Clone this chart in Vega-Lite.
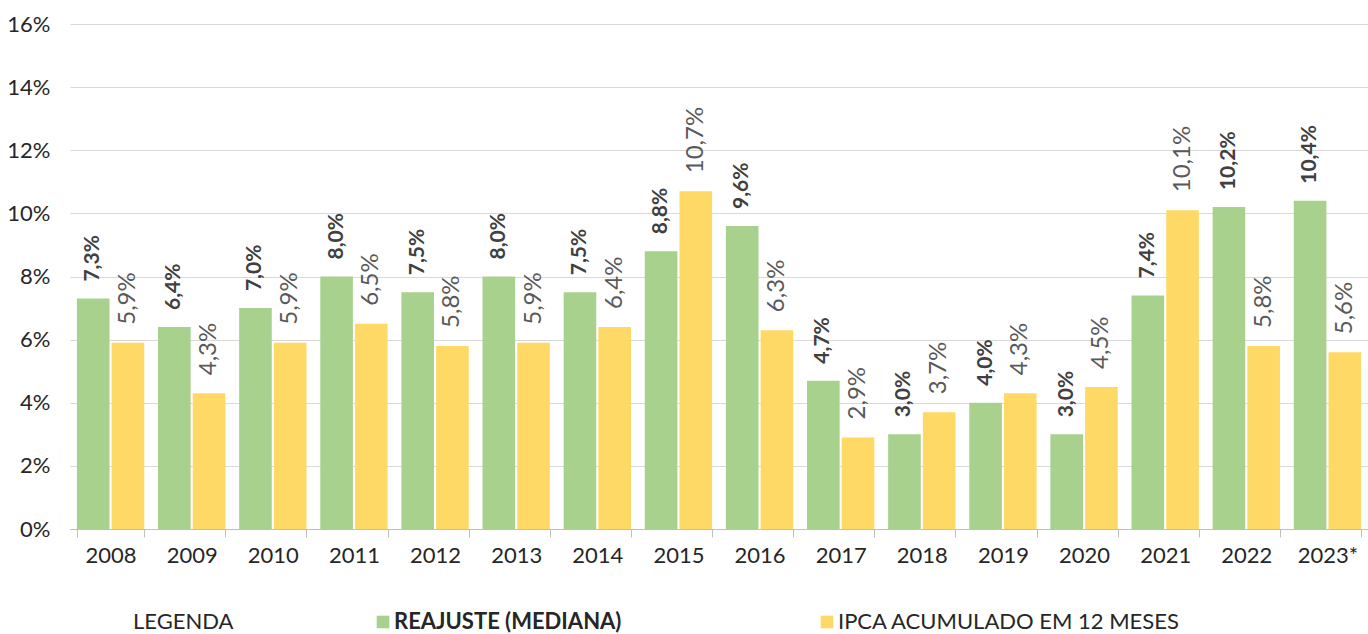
{
  "$schema": "https://vega.github.io/schema/vega-lite/v6.json",
  "autosize": {"type": "none"},
  "width": 1298,
  "height": 505,
  "padding": {"left": 70, "top": 24, "right": 0, "bottom": 105},
  "background": "white",
  "config": {
    "locale": {"number": {"decimal": ",", "thousands": ".", "grouping": [3], "currency": ["R$", ""]}},
    "view": {"stroke": null},
    "font": "Lato"
  },
  "data": {
    "values": [
      {"ano": "2008", "serie": "REAJUSTE (MEDIANA)", "valor": 0.073},
      {"ano": "2008", "serie": "IPCA ACUMULADO EM 12 MESES", "valor": 0.059},
      {"ano": "2009", "serie": "REAJUSTE (MEDIANA)", "valor": 0.064},
      {"ano": "2009", "serie": "IPCA ACUMULADO EM 12 MESES", "valor": 0.043},
      {"ano": "2010", "serie": "REAJUSTE (MEDIANA)", "valor": 0.070},
      {"ano": "2010", "serie": "IPCA ACUMULADO EM 12 MESES", "valor": 0.059},
      {"ano": "2011", "serie": "REAJUSTE (MEDIANA)", "valor": 0.080},
      {"ano": "2011", "serie": "IPCA ACUMULADO EM 12 MESES", "valor": 0.065},
      {"ano": "2012", "serie": "REAJUSTE (MEDIANA)", "valor": 0.075},
      {"ano": "2012", "serie": "IPCA ACUMULADO EM 12 MESES", "valor": 0.058},
      {"ano": "2013", "serie": "REAJUSTE (MEDIANA)", "valor": 0.080},
      {"ano": "2013", "serie": "IPCA ACUMULADO EM 12 MESES", "valor": 0.059},
      {"ano": "2014", "serie": "REAJUSTE (MEDIANA)", "valor": 0.075},
      {"ano": "2014", "serie": "IPCA ACUMULADO EM 12 MESES", "valor": 0.064},
      {"ano": "2015", "serie": "REAJUSTE (MEDIANA)", "valor": 0.088},
      {"ano": "2015", "serie": "IPCA ACUMULADO EM 12 MESES", "valor": 0.107},
      {"ano": "2016", "serie": "REAJUSTE (MEDIANA)", "valor": 0.096},
      {"ano": "2016", "serie": "IPCA ACUMULADO EM 12 MESES", "valor": 0.063},
      {"ano": "2017", "serie": "REAJUSTE (MEDIANA)", "valor": 0.047},
      {"ano": "2017", "serie": "IPCA ACUMULADO EM 12 MESES", "valor": 0.029},
      {"ano": "2018", "serie": "REAJUSTE (MEDIANA)", "valor": 0.030},
      {"ano": "2018", "serie": "IPCA ACUMULADO EM 12 MESES", "valor": 0.037},
      {"ano": "2019", "serie": "REAJUSTE (MEDIANA)", "valor": 0.040},
      {"ano": "2019", "serie": "IPCA ACUMULADO EM 12 MESES", "valor": 0.043},
      {"ano": "2020", "serie": "REAJUSTE (MEDIANA)", "valor": 0.030},
      {"ano": "2020", "serie": "IPCA ACUMULADO EM 12 MESES", "valor": 0.045},
      {"ano": "2021", "serie": "REAJUSTE (MEDIANA)", "valor": 0.074},
      {"ano": "2021", "serie": "IPCA ACUMULADO EM 12 MESES", "valor": 0.101},
      {"ano": "2022", "serie": "REAJUSTE (MEDIANA)", "valor": 0.102},
      {"ano": "2022", "serie": "IPCA ACUMULADO EM 12 MESES", "valor": 0.058},
      {"ano": "2023*", "serie": "REAJUSTE (MEDIANA)", "valor": 0.104},
      {"ano": "2023*", "serie": "IPCA ACUMULADO EM 12 MESES", "valor": 0.056}
    ]
  },
  "encoding": {
    "x": {
      "field": "ano", "type": "nominal", "sort": null, "title": null,
      "scale": {"paddingInner": 0.17, "paddingOuter": 0.085},
      "axis": {
        "labelAngle": 0, "labelFontSize": 22, "labelColor": "#262626", "labelPadding": 8,
        "domainColor": "#bfbfbf", "tickColor": "#bfbfbf", "tickSize": 8, "tickBand": "extent"
      }
    },
    "xOffset": {
      "field": "serie", "type": "nominal", "sort": ["REAJUSTE (MEDIANA)", "IPCA ACUMULADO EM 12 MESES"],
      "scale": {"paddingInner": 0.06}
    },
    "y": {
      "field": "valor", "type": "quantitative", "title": null,
      "scale": {"domain": [0, 0.16], "nice": false},
      "axis": {
        "values": [0, 0.02, 0.04, 0.06, 0.08, 0.1, 0.12, 0.14, 0.16],
        "format": ".0%", "labelFontSize": 22, "labelColor": "#262626", "labelPadding": 20,
        "ticks": false, "domain": false, "gridColor": "#d9d9d9", "gridWidth": 1
      }
    }
  },
  "layer": [
    {
      "mark": {"type": "bar"},
      "encoding": {
        "color": {
          "field": "serie", "type": "nominal",
          "scale": {"domain": ["REAJUSTE (MEDIANA)", "IPCA ACUMULADO EM 12 MESES"], "range": ["#a9d18e", "#ffd966"]},
          "legend": {
            "orient": "none", "legendX": 63, "legendY": 587, "direction": "horizontal",
            "title": "LEGENDA", "titleOrient": "left", "titleFontSize": 22, "titleFontWeight": "normal",
            "titleColor": "#262626", "titlePadding": 138, "titleBaseline": "middle",
            "symbolType": "square", "symbolSize": 160, "symbolStrokeWidth": 0, "symbolOpacity": 1,
            "labelFontSize": 22, "labelColor": "#262626", "labelLimit": 400, "columnPadding": 194,
            "labelOffset": 0,
            "labelFontWeight": {"expr": "datum.value === 'REAJUSTE (MEDIANA)' ? 'bold' : 'normal'"}
          }
        }
      }
    },
    {
      "transform": [{"filter": "datum.serie === 'REAJUSTE (MEDIANA)'"}],
      "mark": {"type": "text", "angle": 270, "align": "left", "baseline": "middle", "dx": 17, "fontSize": 21, "fontWeight": "bold", "color": "#404040"},
      "encoding": {"text": {"field": "valor", "type": "quantitative", "format": ".1%"}}
    },
    {
      "transform": [{"filter": "datum.serie === 'IPCA ACUMULADO EM 12 MESES'"}],
      "mark": {"type": "text", "angle": 270, "align": "left", "baseline": "middle", "dx": 18, "fontSize": 24, "color": "#595959"},
      "encoding": {"text": {"field": "valor", "type": "quantitative", "format": ".1%"}}
    }
  ]
}
